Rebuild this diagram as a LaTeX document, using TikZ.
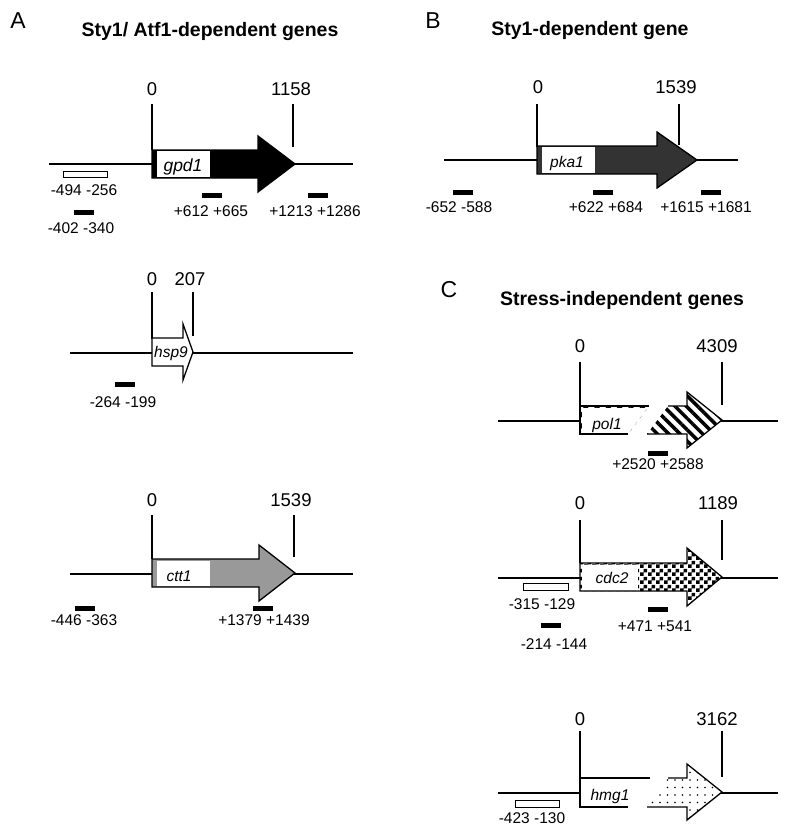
\documentclass[tikz,border=0pt]{standalone}
\usepackage{fontspec}
\setmainfont{Liberation Sans}
\usetikzlibrary{patterns,patterns.meta}

% checker tiles for cdc2
\pgfdeclarepatternformonly{checks}{\pgfpointorigin}{\pgfqpoint{8pt}{8pt}}{\pgfqpoint{8pt}{8pt}}{%
  \pgfpathrectangle{\pgfpointorigin}{\pgfqpoint{4pt}{4pt}}%
  \pgfpathrectangle{\pgfqpoint{4pt}{4pt}}{\pgfqpoint{4pt}{4pt}}%
  \pgfusepath{fill}}

% box + head of a gene: x0, head base, tip, mid y, half box, half head
\newcommand\genepath[6]{(#1,#4-#5) -- (#2,#4-#5) -- (#2,#4-#6) -- (#3,#4) -- (#2,#4+#6) -- (#2,#4+#5) -- (#1,#4+#5) -- cycle}

\tikzset{
  dna/.style={line width=1.3pt},
  numlbl/.style={font=\fontsize{18.5}{20}\selectfont, inner sep=0pt},
  probelbl/.style={font=\fontsize{15.5}{17}\selectfont, inner sep=0pt},
  gname/.style={font=\fontsize{15.5}{17}\selectfont\itshape, inner sep=0pt, anchor=base},
  heading/.style={font=\fontsize{19.5}{21}\selectfont\bfseries, inner sep=0pt},
  panel/.style={font=\fontsize{23}{25}\selectfont, inner sep=0pt},
  openprobe/.style={draw, line width=1pt, fill=white},
  hatch/.style={pattern={Lines[angle=-45, distance=8pt, line width=3.5pt]}},
  speckle/.style={pattern={Dots[distance=7.5pt, radius=0.8pt]}},
}

\begin{document}
\begin{tikzpicture}[x=1pt,y=-1pt]
  \useasboundingbox (0,0) rectangle (800,840);

  % panel letters and headings
  \node[panel] (pA) at (18,21) {A};
  \node[panel] (pB) at (433,21) {B};
  \node[panel] (pC) at (449,290) {C};
  \node[heading] (hA) at (210,32) {Sty1/ Atf1-dependent genes};
  \node[heading] (hB) at (590,31) {Sty1-dependent gene};
  \node[heading] (hC) at (622,300) {Stress-independent genes};

  % gpd1
  \draw[dna] (49,164) -- (353,164);
  \draw[dna] (152,104) -- (152,150);
  \draw[dna] (293,104) -- (293,147);
  \filldraw[dna, fill=black] \genepath{152}{258}{295}{164}{14}{28};
  \fill[white] (157,151) rectangle (210,177);
  \node[gname, font=\fontsize{17.5}{19}\selectfont\itshape] (gpd1) at (183,171) {gpd1};
  \node[numlbl] (gpd1a) at (152,89) {0};
  \node[numlbl] (gpd1b) at (291,89) {1158};

  % pka1
  \draw[dna] (444,160) -- (738,160);
  \draw[dna] (537,104) -- (537,147);
  \draw[dna] (679,104) -- (679,145);
  \filldraw[dna, fill=black!80] \genepath{537}{657}{697}{160}{14}{28};
  \fill[white] (542,147) rectangle (595,173);
  \node[gname] (pka1) at (567,167) {pka1};
  \node[numlbl] (pka1a) at (538,87) {0};
  \node[numlbl] (pka1b) at (676,87) {1539};

  % hsp9
  \draw[dna] (70,353) -- (353,353);
  \draw[dna] (152,292) -- (152,339);
  \draw[dna] (193,292) -- (193,336);
  \filldraw[dna, fill=white] \genepath{152}{183}{193}{352}{14}{28};
  \node[gname] (hsp9) at (171,357) {hsp9};
  \node[numlbl] (hsp9a) at (152,279) {0};
  \node[numlbl] (hsp9b) at (190,279) {207};

  % ctt1
  \draw[dna] (70,574) -- (353,574);
  \draw[dna] (152,515) -- (152,559);
  \draw[dna] (294,515) -- (294,557);
  \filldraw[dna, fill=black!40] \genepath{152}{259}{295}{573}{14}{28};
  \fill[white] (157,561) rectangle (210,586);
  \node[gname] (ctt1) at (179,581) {ctt1};
  \node[numlbl] (ctt1a) at (152,500) {0};
  \node[numlbl] (ctt1b) at (291,500) {1539};

  % pol1 (broken)
  \draw[dna] (498,421) -- (778,421);
  \draw[dna] (580,362) -- (580,406);
  \draw[dna] (722,362) -- (722,405);
  \fill[white] \genepath{580}{687}{722}{420}{14}{28};
  \fill[hatch] (668,406) -- (687,406) -- (687,392) -- (722,420) -- (687,448) -- (687,434) -- (647,434) -- cycle;
  \draw[dna] (668,406) -- (687,406) -- (687,392) -- (722,420) -- (687,448) -- (687,434) -- (647,434);
  \fill[hatch] (580,406) -- (649,406) -- (628,434) -- (580,434) -- cycle;
  \fill[white] (582,408) -- (647.5,408) -- (628,434) -- (582,434) -- cycle;
  \draw[dna] (649,406) -- (580,406) -- (580,434) -- (628,434);
  \node[gname] (pol1) at (607,429) {pol1};
  \node[numlbl] (pol1a) at (580,346) {0};
  \node[numlbl] (pol1b) at (717,346) {4309};

  % cdc2
  \draw[dna] (498,578) -- (778,578);
  \draw[dna] (580,520) -- (580,563);
  \draw[dna] (722,520) -- (722,560);
  \fill[white] \genepath{580}{687}{722}{577}{14}{29};
  \fill[pattern=checks] \genepath{580}{687}{722}{577}{14}{29};
  \fill[white] (582,565) rectangle (638,591);
  \draw[dna] \genepath{580}{687}{722}{577}{14}{29};
  \node[gname] (cdc2) at (612,583) {cdc2};
  \node[numlbl] (cdc2a) at (580,503) {0};
  \node[numlbl] (cdc2b) at (718,503) {1189};

  % hmg1 (broken)
  \draw[dna] (498,793) -- (778,793);
  \draw[dna] (580,731) -- (580,778);
  \draw[dna] (722,731) -- (722,777);
  \fill[white] \genepath{580}{687}{722}{792}{14}{28};
  \fill[speckle] (668,778) -- (687,778) -- (687,764) -- (722,792) -- (687,820) -- (687,807) -- (647,807) -- cycle;
  \draw[dna] (668,778) -- (687,778) -- (687,764) -- (722,792) -- (687,820) -- (687,807) -- (647,807);
  \draw[dna] (650,778) -- (580,778) -- (580,807) -- (628,807);
  \node[gname] (hmg1) at (610,800) {hmg1};
  \node[numlbl] (hmg1a) at (580,719) {0};
  \node[numlbl] (hmg1b) at (717,719) {3162};

  % probes
  \foreach \x/\y in {74/210, 202/193, 308/193, 453/190, 593/190, 701/190,
                     115/382, 75/606, 253/606, 648/451, 541/623, 648/607}
    \fill (\x,\y) rectangle ++(20,5);
  \draw[openprobe] (63,171) rectangle (107,177);
  \draw[openprobe] (523,583) rectangle (568,590);
  \draw[openprobe] (515,800) rectangle (559,807);

  \node[probelbl] (g1) at (84,190) {-494 -256};
  \node[probelbl] (g2) at (81,228) {-402 -340};
  \node[probelbl] (g3) at (211,211) {+612 +665};
  \node[probelbl] (g4) at (315,211) {+1213 +1286};
  \node[probelbl] (p1) at (459,207) {-652 -588};
  \node[probelbl] (p2) at (606,207) {+622 +684};
  \node[probelbl] (p3) at (706,207) {+1615 +1681};
  \node[probelbl] (h1) at (123,402) {-264 -199};
  \node[probelbl] (c1) at (84,620) {-446 -363};
  \node[probelbl] (c2) at (264,620) {+1379 +1439};
  \node[probelbl] (o1) at (658,464) {+2520 +2588};
  \node[probelbl] (d1) at (542,604) {-315 -129};
  \node[probelbl] (d2) at (554,644) {-214 -144};
  \node[probelbl] (d3) at (655,626) {+471 +541};
  \node[probelbl] (m1) at (532,818) {-423 -130};
\end{tikzpicture}
\end{document}
